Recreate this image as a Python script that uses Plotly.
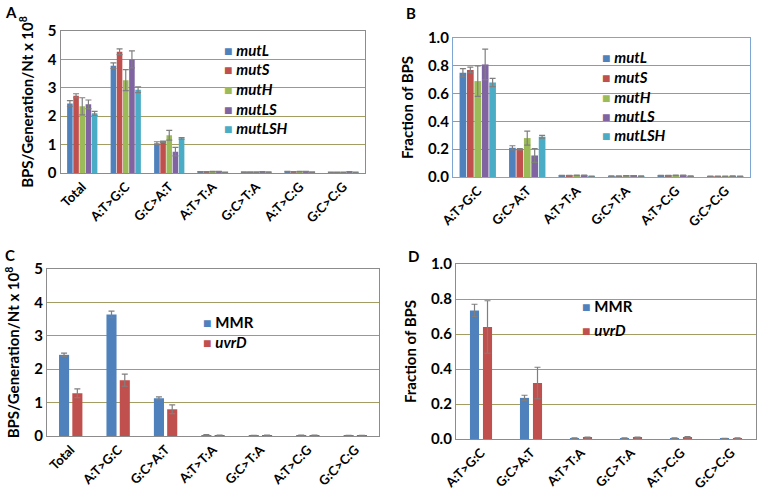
import plotly.graph_objects as go

# ---------------- data ----------------
cats_A = ["Total", "A:T>G:C", "G:C>A:T", "A:T>T:A", "G:C>T:A", "A:T>C:G", "G:C>C:G"]
cats_B = ["A:T>G:C", "G:C>A:T", "A:T>T:A", "G:C>T:A", "A:T>C:G", "G:C>C:G"]

strains_AB = ["mutL", "mutS", "mutH", "mutLS", "mutLSH"]
colors_AB = ["#4F81BD", "#C0504D", "#9BBB59", "#8064A2", "#4BACC6"]

rate_mutL = [2.45, 3.78, 1.05, 0.04, 0.03, 0.05, 0.02]
rate_mutS = [2.72, 4.27, 1.10, 0.04, 0.03, 0.04, 0.02]
rate_mutH = [2.35, 3.27, 1.33, 0.05, 0.03, 0.05, 0.02]
rate_mutLS = [2.42, 4.00, 0.75, 0.05, 0.04, 0.05, 0.04]
rate_mutLSH = [2.10, 2.93, 1.22, 0.02, 0.03, 0.03, 0.02]
rate_err_mutL = [0.10, 0.10, 0.05, 0.01, 0.01, 0.01, 0.01]
rate_err_mutS = [0.07, 0.10, 0.02, 0.01, 0.01, 0.01, 0.01]
rate_err_mutH = [0.30, 0.37, 0.17, 0.01, 0.01, 0.01, 0.01]
rate_err_mutLS = [0.15, 0.30, 0.15, 0.01, 0.01, 0.01, 0.01]
rate_err_mutLSH = [0.07, 0.10, 0.03, 0.01, 0.01, 0.01, 0.01]

frac_mutL = [0.75, 0.21, 0.010, 0.006, 0.010, 0.004]
frac_mutS = [0.77, 0.20, 0.010, 0.006, 0.009, 0.004]
frac_mutH = [0.69, 0.28, 0.012, 0.008, 0.011, 0.005]
frac_mutLS = [0.81, 0.155, 0.012, 0.008, 0.011, 0.007]
frac_mutLSH = [0.68, 0.29, 0.005, 0.007, 0.006, 0.004]
frac_err_mutL = [0.03, 0.015, 0.002, 0.002, 0.002, 0.002]
frac_err_mutS = [0.02, 0.005, 0.002, 0.002, 0.002, 0.002]
frac_err_mutH = [0.11, 0.05, 0.002, 0.002, 0.002, 0.002]
frac_err_mutLS = [0.11, 0.05, 0.002, 0.002, 0.002, 0.002]
frac_err_mutLSH = [0.03, 0.01, 0.002, 0.002, 0.002, 0.002]

strains_CD = ["MMR", "uvrD"]
colors_CD = ["#4F81BD", "#C0504D"]

rate_MMR = [2.43, 3.64, 1.13, 0.03, 0.01, 0.02, 0.01]
rate_uvrD = [1.28, 1.67, 0.80, 0.02, 0.02, 0.02, 0.01]
rate_err_MMR = [0.05, 0.10, 0.04, 0.01, 0.01, 0.01, 0.01]
rate_err_uvrD = [0.13, 0.18, 0.13, 0.01, 0.01, 0.01, 0.01]

frac_MMR = [0.735, 0.235, 0.005, 0.004, 0.004, 0.002]
frac_uvrD = [0.64, 0.32, 0.008, 0.008, 0.010, 0.005]
frac_err_MMR = [0.035, 0.015, 0.002, 0.002, 0.002, 0.002]
frac_err_uvrD = [0.15, 0.09, 0.003, 0.003, 0.004, 0.002]

yticks_rate = [0, 1, 2, 3, 4, 5]
yticks_frac = [0.0, 0.2, 0.4, 0.6, 0.8, 1.0]

# ---------------- figure ----------------
W, H = 757, 491
FONT = "Lato"
GRID = "#A39D63"
ERR = "#7F7F7F"

def px_x(p):
    return p / W

def px_y(p):
    return 1 - p / H

fig = go.Figure()

panels = {
    "A": dict(ax="", x=(60.5, 365), y=(31, 173), cats=cats_A,
              series=[rate_mutL, rate_mutS, rate_mutH, rate_mutLS, rate_mutLSH],
              errs=[rate_err_mutL, rate_err_mutS, rate_err_mutH, rate_err_mutLS, rate_err_mutLSH],
              names=strains_AB, colors=colors_AB, rng=[0, 5], ticks=yticks_rate,
              fmt="d", line="#8C8C8C", group=0.71, inner=0.1),
    "B": dict(ax="2", x=(453, 750), y=(38, 177), cats=cats_B,
              series=[frac_mutL, frac_mutS, frac_mutH, frac_mutLS, frac_mutLSH],
              errs=[frac_err_mutL, frac_err_mutS, frac_err_mutH, frac_err_mutLS, frac_err_mutLSH],
              names=strains_AB, colors=colors_AB, rng=[0, 1], ticks=yticks_frac,
              fmt=".1f", line="#7EA6D3", group=0.75, inner=0.1),
    "C": dict(ax="3", x=(47, 379), y=(269, 436), cats=cats_A,
              series=[rate_MMR, rate_uvrD], errs=[rate_err_MMR, rate_err_uvrD],
              names=strains_CD, colors=colors_CD, rng=[0, 5], ticks=yticks_rate,
              fmt="d", line="#8C8C8C", group=0.56, inner=0.24),
    "D": dict(ax="4", x=(456, 756), y=(264, 439), cats=cats_B,
              series=[frac_MMR, frac_uvrD], errs=[frac_err_MMR, frac_err_uvrD],
              names=strains_CD, colors=colors_CD, rng=[0, 1], ticks=yticks_frac,
              fmt=".1f", line="#8C8C8C", group=0.52, inner=0.3),
}

for key, p in panels.items():
    n = len(p["series"])
    slot = p["group"] / n
    bw = slot * (1 - p["inner"])
    for i, (vals, err, name, col) in enumerate(zip(p["series"], p["errs"], p["names"], p["colors"])):
        off = -p["group"] / 2 + i * slot + slot * p["inner"] / 2
        fig.add_trace(go.Bar(
            x=p["cats"], y=vals, name=name, marker_color=col, marker_line_width=0,
            width=bw, offset=off,
            error_y=dict(type="data", array=err, visible=True, color=ERR,
                         thickness=1.2, width=3),
            xaxis="x" + p["ax"], yaxis="y" + p["ax"], showlegend=False,
        ))
    xa = "xaxis" + p["ax"]
    ya = "yaxis" + p["ax"]
    fig.layout[xa] = dict(
        domain=[px_x(p["x"][0]), px_x(p["x"][1])], anchor="y" + p["ax"],
        tickangle=-45, tickfont=dict(family=FONT, size=13, color="black", weight="bold"),
        showline=True, linecolor=p["line"], linewidth=1.3, mirror=True,
        showgrid=False, ticks="", type="category", automargin=False,
    )
    fig.layout[ya] = dict(
        domain=[px_y(p["y"][1]), px_y(p["y"][0])], anchor="x" + p["ax"],
        range=p["rng"], tickvals=p["ticks"], tickformat=p["fmt"],
        tickfont=dict(family=FONT, size=15, color="black", weight="bold"),
        showline=True, linecolor=p["line"], linewidth=1.3, mirror=True,
        showgrid=True, gridcolor=GRID, gridwidth=1.2, zeroline=False, ticks="",
        automargin=False,
    )

fig.update_layout(barmode="overlay")

# titles for y axes
ytitle_rate = "BPS/Generation/Nt x 10<sup>8</sup>"
ytitle_frac = "Fraction of BPS"
tfont = dict(family=FONT, size=15, color="black", weight="bold")
fig.layout.yaxis.title = dict(text=ytitle_rate, font=tfont, standoff=10)
fig.layout.yaxis2.title = dict(text=ytitle_frac, font=tfont, standoff=10)
fig.layout.yaxis3.title = dict(text=ytitle_rate, font=tfont, standoff=10)
fig.layout.yaxis4.title = dict(text=ytitle_frac, font=tfont, standoff=10)

annotations = []
# panel letters
for letter, (lx, ly) in {"A": (3, 1), "B": (404, 2), "C": (3, 244), "D": (406, 245)}.items():
    annotations.append(dict(text="<b>%s</b>" % letter, x=px_x(lx), y=px_y(ly), xref="paper", yref="paper",
                            xanchor="left", yanchor="top", showarrow=False,
                            font=dict(family=FONT, size=15, color="black")))

# legends as annotations
def add_legend(names, colors, x0, ys, italic_flags):
    for name, col, yy, it in zip(names, colors, ys, italic_flags):
        label = "<i>%s</i>" % name if it else name
        annotations.append(dict(
            text="<span style='color:%s;font-size:14px'>■</span> <b>%s</b>" % (col, label),
            x=px_x(x0), y=px_y(yy), xref="paper", yref="paper",
            xanchor="left", yanchor="middle", showarrow=False,
            font=dict(family=FONT, size=15, color="black")))

add_legend(strains_AB, colors_AB, 222, [50, 69.5, 89, 108.5, 128], [True] * 5)
add_legend(strains_AB, colors_AB, 600, [57, 77, 97, 116, 135], [True] * 5)
add_legend(strains_CD, colors_CD, 201, [322, 342], [False, True])
add_legend(strains_CD, colors_CD, 580, [306, 330], [False, True])

fig.update_layout(
    width=W, height=H, margin=dict(l=0, r=0, t=0, b=0),
    paper_bgcolor="white", plot_bgcolor="white",
    annotations=annotations, showlegend=False,
    font=dict(family=FONT, color="black"),
)

fig.write_html("out.html", config={"displayModeBar": False},
               post_script="document.body.style.margin='0';document.body.style.overflow='hidden';")
